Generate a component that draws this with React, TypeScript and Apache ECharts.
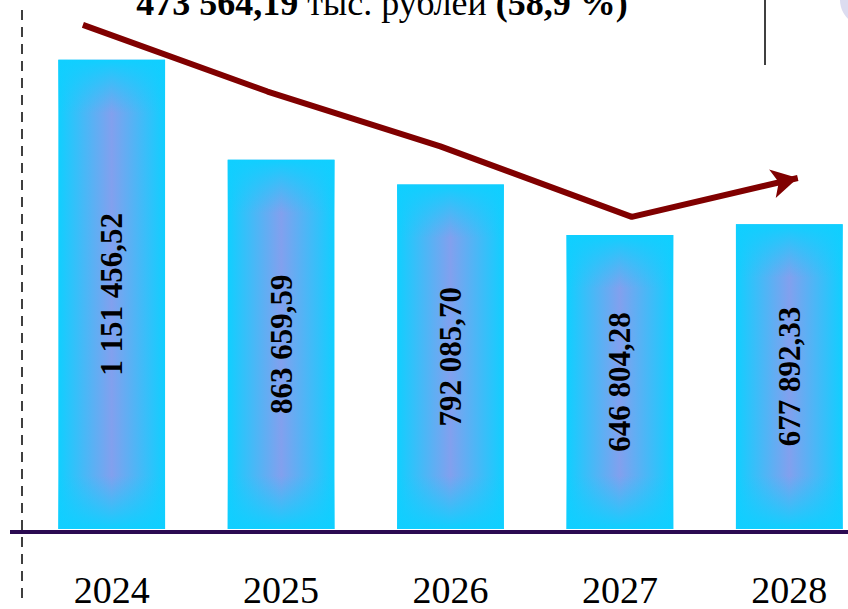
import React, { useEffect, useRef } from "react";
import * as echarts from "echarts";

const years = ["2024", "2025", "2026", "2027", "2028"];
const amounts = [1151456.52, 863659.59, 792085.7, 646804.28, 677892.33];
// decorative trend arrow, in category-index units (x) and value units (y)
const trendX = [-0.17, 0.92, 1.94, 3.07, 4.05];
const trendY = [1252000, 1060000, 902000, 699000, 811000];
const headlineAmount = "473 564,19";
const headlineUnit = " тыс. рублей ";
const headlineShare = "(58,9 %)";

const Y_MIN = -200000;
const Y_MAX = 1266000;

function fmt(v: number): string {
  const [i, d] = v.toFixed(2).split(".");
  return i.replace(/\B(?=(\d{3})+(?!\d))/g, " ") + "," + d;
}

const CYAN = "#10cfff";
const LAV = "#82a0ee";
const SERIF = "'Liberation Serif', 'Times New Roman', serif";

export default function App() {
  const ref = useRef<HTMLDivElement>(null);
  useEffect(() => {
    if (!ref.current) return;
    const chart = echarts.init(ref.current, null, { renderer: "svg" });
    const last = trendX.length - 1;
    const option: any = {
      animation: false,
      backgroundColor: "#ffffff",
      grid: { left: 27, right: 0, top: 20, bottom: 77 },
      xAxis: [
        {
          type: "category",
          data: years,
          axisTick: { show: false },
          axisLine: { show: false, onZero: false },
          axisLabel: { color: "#000", fontFamily: SERIF, fontSize: 38, margin: 42 },
        },
        { type: "value", min: -0.5, max: 4.5, show: false },
      ],
      yAxis: { type: "value", min: Y_MIN, max: Y_MAX, show: false },
      series: [
        {
          type: "custom",
          xAxisIndex: 0,
          yAxisIndex: 0,
          data: amounts.map((v, i) => [i, v]),
          encode: { x: 0, y: 1 },
          renderItem: (params: any, api: any) => {
            const i = api.value(0);
            const v = api.value(1);
            const top = api.coord([i, v]);
            const base = api.coord([i, Y_MIN]);
            const band = api.size([1, 0])[0];
            const w = band * 0.63;
            const x0 = top[0] - w / 2;
            const h = base[1] - top[1];
            const fade = Math.min(w / 2, h / 2);
            return {
              type: "group",
              children: [
                {
                  type: "rect",
                  shape: { x: x0, y: top[1], width: w, height: h },
                  style: {
                    fill: new echarts.graphic.LinearGradient(0, 0, 1, 0, [
                      { offset: 0, color: CYAN },
                      { offset: 0.5, color: LAV },
                      { offset: 1, color: CYAN },
                    ]),
                  },
                },
                {
                  type: "rect",
                  shape: { x: x0, y: top[1], width: w, height: fade },
                  style: {
                    fill: new echarts.graphic.LinearGradient(0, 0, 0, 1, [
                      { offset: 0, color: "rgba(16,207,255,1)" },
                      { offset: 1, color: "rgba(16,207,255,0)" },
                    ]),
                  },
                },
                {
                  type: "rect",
                  shape: { x: x0, y: base[1] - fade, width: w, height: fade },
                  style: {
                    fill: new echarts.graphic.LinearGradient(0, 0, 0, 1, [
                      { offset: 0, color: "rgba(16,207,255,0)" },
                      { offset: 1, color: "rgba(16,207,255,1)" },
                    ]),
                  },
                },
                {
                  type: "text",
                  x: top[0],
                  y: (top[1] + base[1]) / 2,
                  rotation: Math.PI / 2,
                  style: {
                    text: fmt(v),
                    fill: "#000",
                    fontFamily: SERIF,
                    fontWeight: "bold",
                    fontSize: 31,
                    align: "center",
                    verticalAlign: "middle",
                  },
                },
              ],
            };
          },
          z: 2,
        },
        {
          type: "line",
          xAxisIndex: 1,
          yAxisIndex: 0,
          data: trendX.map((x, i) => ({
            value: [x, trendY[i]],
            symbol: i === last ? "arrow" : "none",
            symbolSize: [22, 26],
            symbolRotate: -77,
          })),
          lineStyle: { color: "#800000", width: 6 },
          itemStyle: { color: "#800000" },
          z: 5,
        },
      ],
      graphic: [
        {
          type: "circle",
          shape: { cx: 866, cy: 0, r: 26 },
          style: { fill: "#dcdcf0" },
        },
        {
          type: "line",
          shape: { x1: 765, y1: 0, x2: 765, y2: 65 },
          style: { stroke: "#000", lineWidth: 1.5 },
        },
        {
          type: "line",
          shape: { x1: 22, y1: 10, x2: 22, y2: 602 },
          style: { stroke: "#000", lineWidth: 1.5, lineDash: [10, 7] },
        },
        {
          type: "line",
          shape: { x1: 10, y1: 532, x2: 848, y2: 532 },
          style: { stroke: "#2b0a52", lineWidth: 4 },
          z: 10,
        },
        {
          type: "text",
          x: 382,
          y: 3,
          style: {
            text: "{a|" + headlineAmount + "}{b|" + headlineUnit + "}{a|" + headlineShare + "}",
            align: "center",
            verticalAlign: "middle",
            rich: {
              a: { fontFamily: SERIF, fontWeight: "bold", fontSize: 36, fill: "#000" },
              b: { fontFamily: SERIF, fontSize: 36, fill: "#000" },
            },
          },
        },
      ],
    };
    chart.setOption(option);
    return () => chart.dispose();
  }, []);
  return (
    <div style={{ position: "fixed", left: 0, top: 0, width: 848, height: 609, overflow: "hidden" }}>
      <div ref={ref} style={{ width: 874, height: 609 }} />
    </div>
  );
}
